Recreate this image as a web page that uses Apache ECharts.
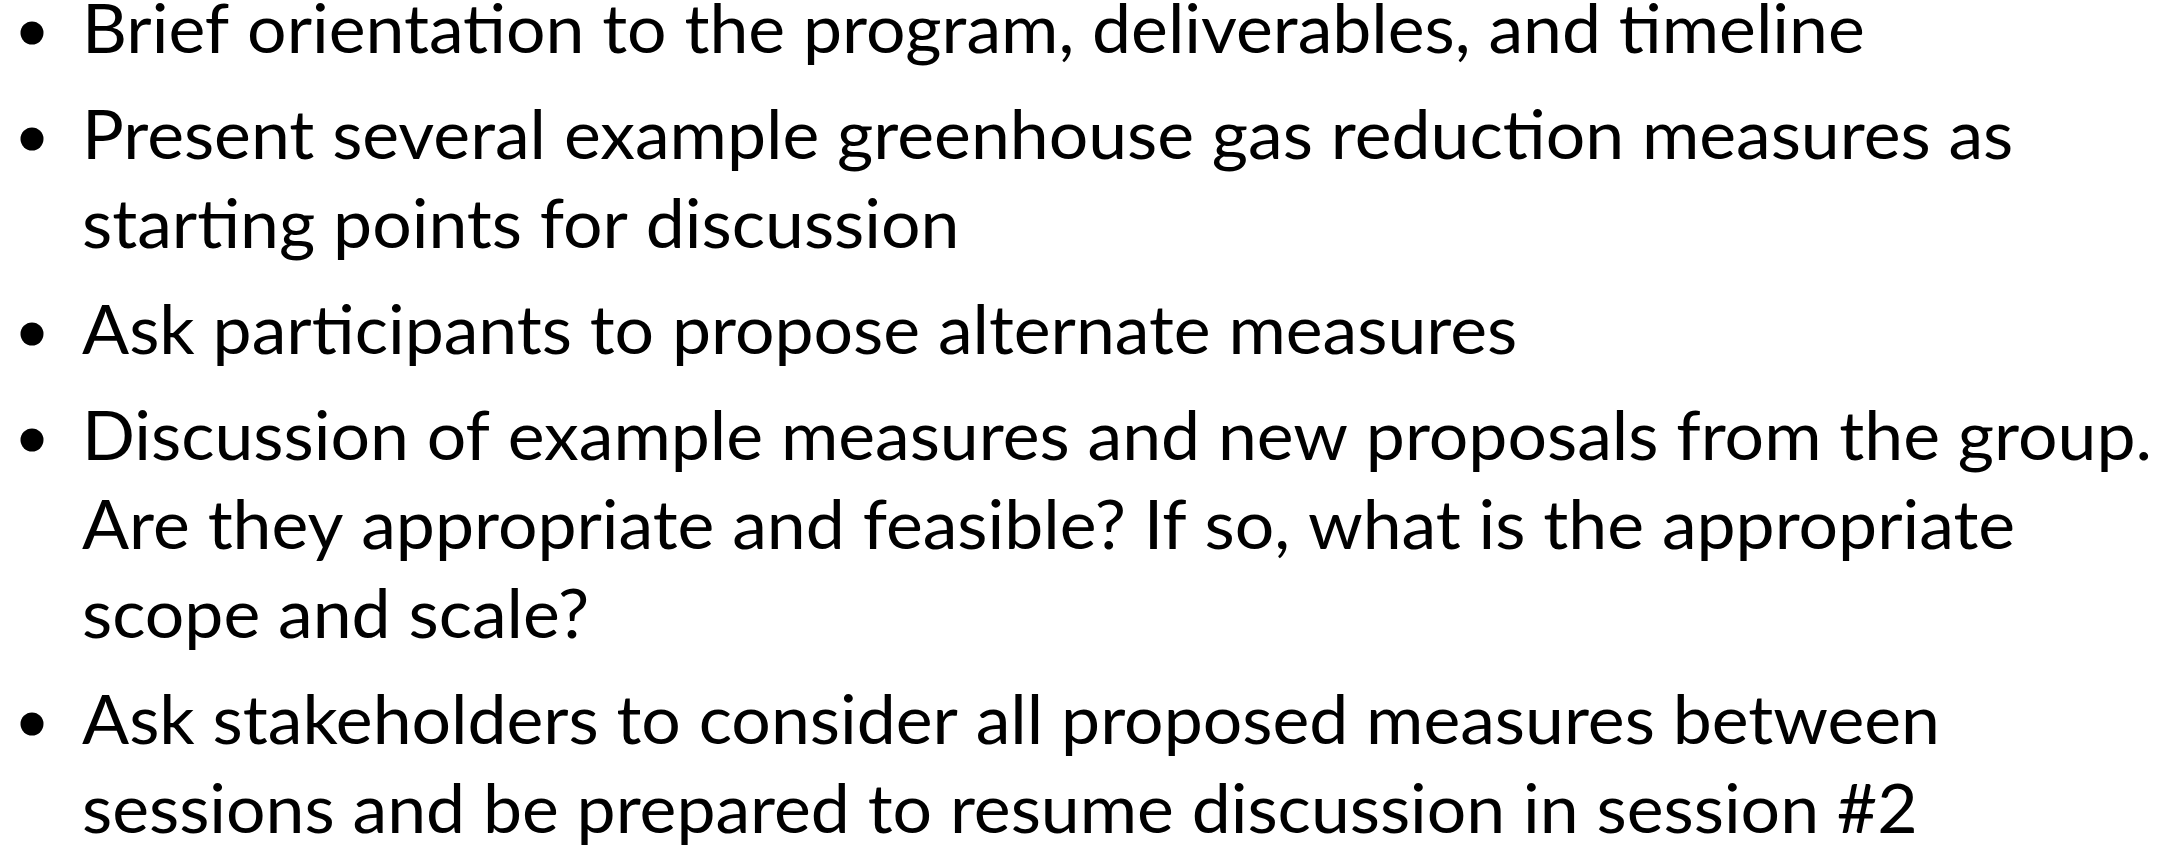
<!DOCTYPE html>
<html lang="en">
<head>
<meta charset="utf-8">
<title>Session agenda</title>
<script src="https://cdn.jsdelivr.net/npm/echarts@6/dist/echarts.min.js"></script>
<style>
  html, body { margin: 0; padding: 0; background: #fff; }
  #main { width: 2164px; height: 848px; }
</style>
</head>
<body>
<div id="main"></div>
<script>
// bullet items, each one a list of its wrapped lines
var item1 = ['Brief orientation to the program, deliverables, and timeline'];
var item2 = ['Present several example greenhouse gas reduction measures as',
             'starting points for discussion'];
var item3 = ['Ask participants to propose alternate measures'];
var item4 = ['Discussion of example measures and new proposals from the group.',
             'Are they appropriate and feasible? If so, what is the appropriate',
             'scope and scale?'];
var item5 = ['Ask stakeholders to consider all proposed measures between',
             'sessions and be prepared to resume discussion in session #2'];
var items = [item1, item2, item3, item4, item5];

// layout
var fontSize = 68;
var stretch = 1.025;    // calibri-ish width
var firstBaseline = 57;
var lineStep = 89;      // line to line inside one bullet
var itemGap = 17;       // extra space between bullets
var textX = 82;
var bulletX = 32;
var bulletR = 11.5;
var midOffset = 26;     // baseline -> middle of text box

var chart = echarts.init(document.getElementById('main'));
var elements = [];
var baseline = firstBaseline;
items.forEach(function (lines, i) {
  elements.push({
    type: 'circle',
    shape: { cx: bulletX, cy: baseline - 24, r: bulletR },
    style: { fill: '#000' }
  });
  lines.forEach(function (txt, j) {
    elements.push({
      type: 'text',
      x: textX,
      y: baseline - midOffset,
      scaleX: stretch,
      style: {
        text: txt,
        fill: '#000',
        font: fontSize + 'px Lato',
        verticalAlign: 'middle',
        align: 'left'
      }
    });
    if (j < lines.length - 1) baseline += lineStep;
  });
  baseline += lineStep + itemGap;
});

chart.setOption({
  backgroundColor: '#fff',
  animation: false,
  graphic: { elements: elements }
});
</script>
</body>
</html>
